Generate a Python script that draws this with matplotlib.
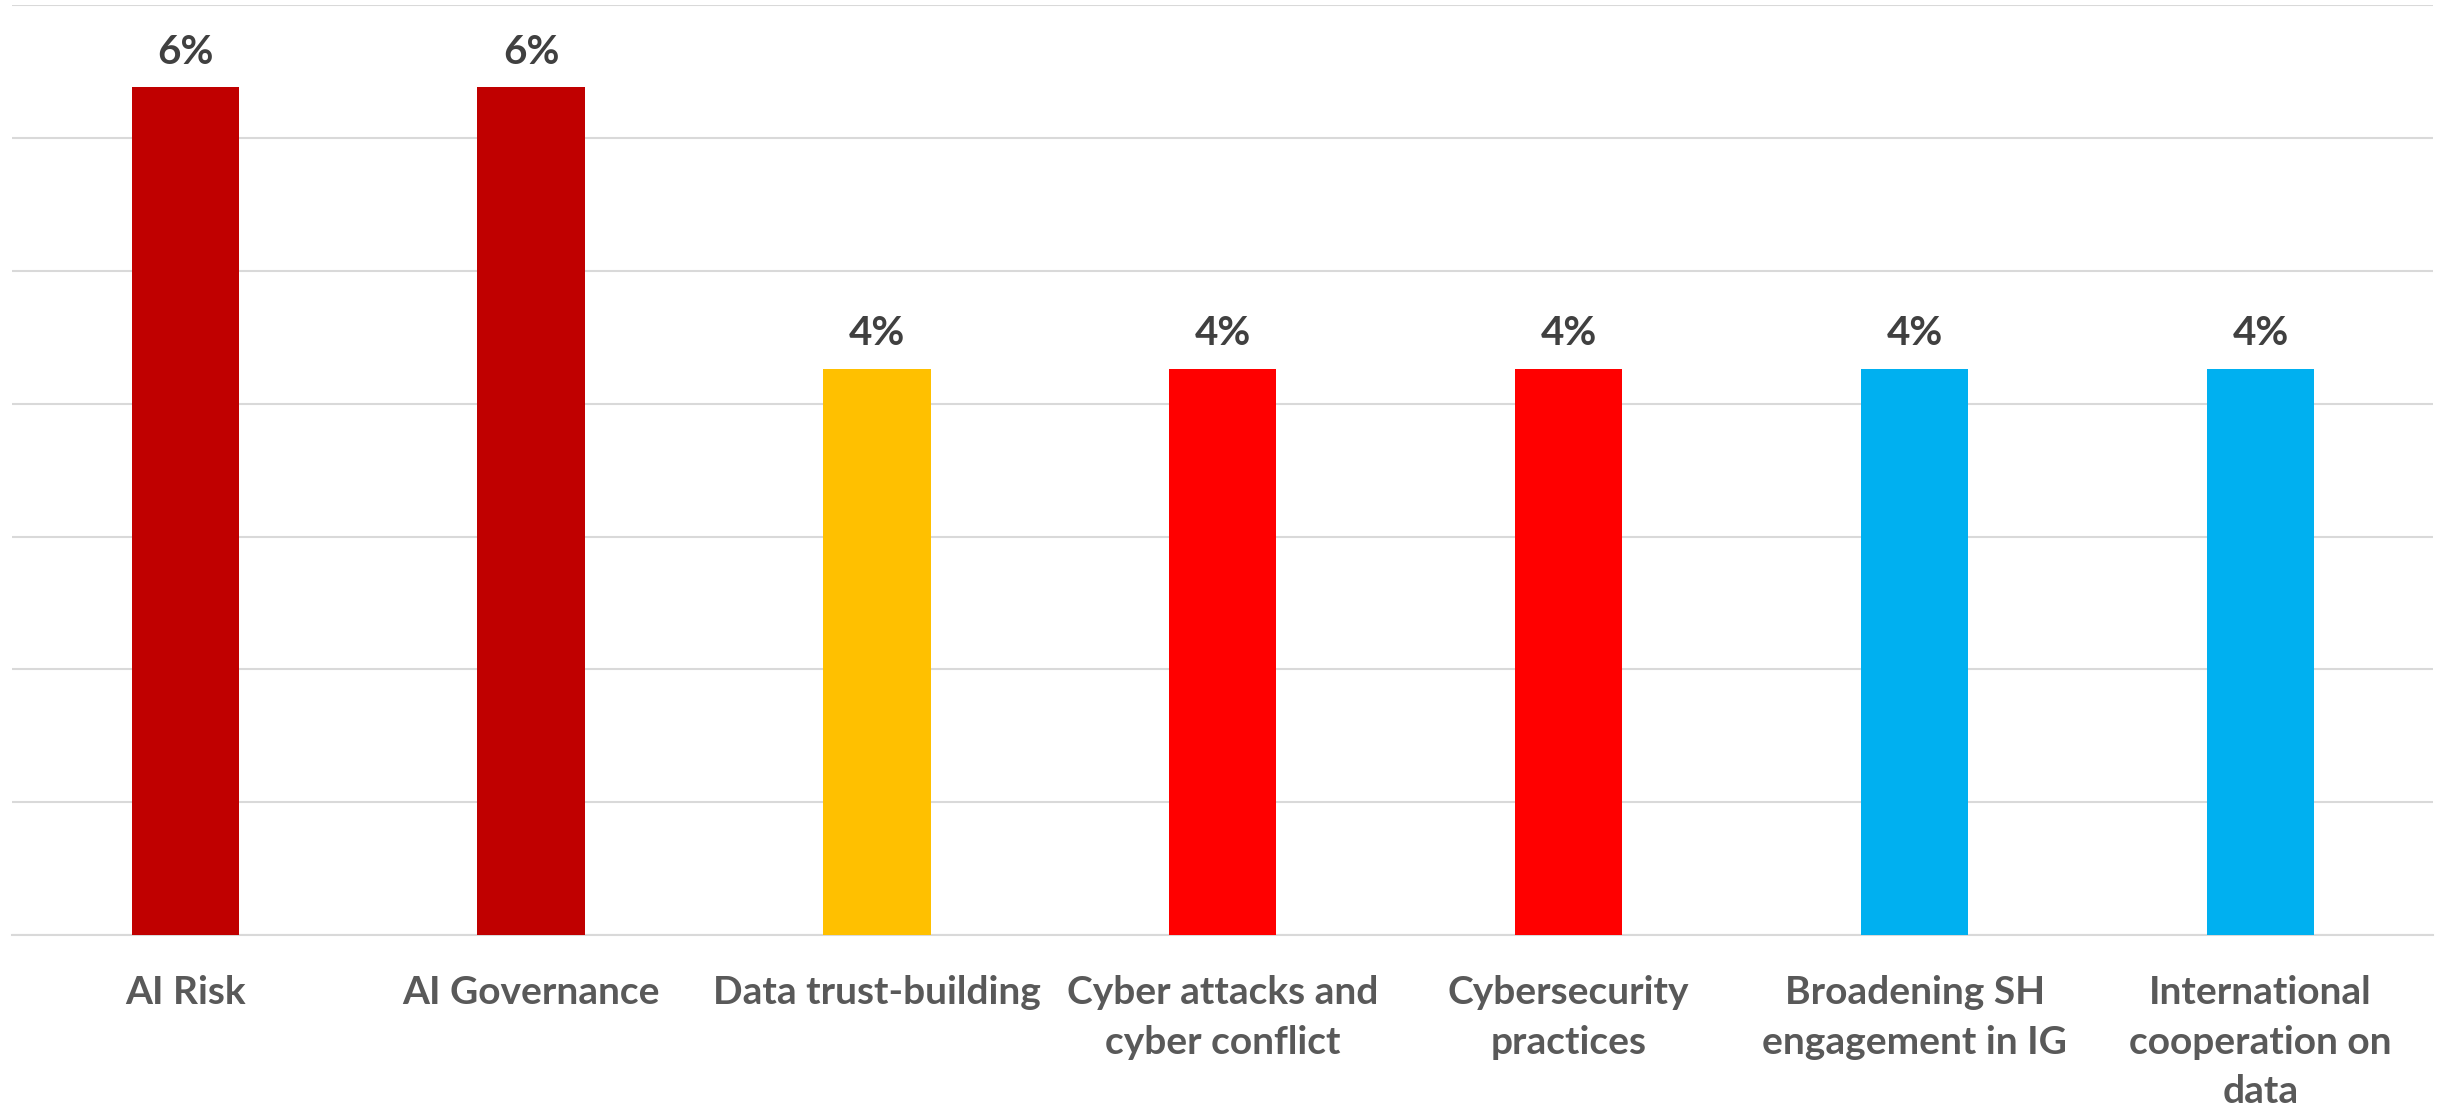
import matplotlib.pyplot as plt
from matplotlib.ticker import MultipleLocator

# share of mentions per topic (3/47 and 2/47)
topics = ['AI Risk', 'AI Governance', 'Data trust-building',
          'Cyber attacks and\ncyber conflict', 'Cybersecurity\npractices',
          'Broadening SH\nengagement in IG', 'International\ncooperation on\ndata']
shares = [0.0638, 0.0638, 0.0426, 0.0426, 0.0426, 0.0426, 0.0426]
value_labels = ['6%', '6%', '4%', '4%', '4%', '4%', '4%']
colors = ['#C00000', '#C00000', '#FFC000', '#FF0000', '#FF0000', '#00B0F0', '#00B0F0']

plt.rcParams['font.family'] = ['Lato', 'DejaVu Sans']

fig = plt.figure(figsize=(24.53, 11.12), dpi=100)
ax = fig.add_axes([0.005, 0.159, 0.987, 0.8365])

x = range(len(topics))
ax.bar(x, shares, width=0.31, color=colors, zorder=3)

for i in x:
    ax.annotate(value_labels[i], (i, shares[i]), xytext=(0, 12), textcoords='offset points',
                ha='center', va='bottom', fontsize=29, fontweight='bold', color='#404040')

ax.set_xlim(-0.5, len(topics) - 0.5)
ax.set_ylim(0, 0.07)
ax.yaxis.set_major_locator(MultipleLocator(0.01))
ax.grid(axis='y', color='#D9D9D9', linewidth=1.5, zorder=0)
ax.set_yticklabels([])
ax.tick_params(axis='y', length=0)
ax.tick_params(axis='x', length=0, pad=29)
ax.set_xticks(list(x))
ax.set_xticklabels(topics, fontsize=28, fontweight='bold', color='#595959', linespacing=1.5)
for s in ['top', 'right', 'left']:
    ax.spines[s].set_visible(False)
ax.spines['bottom'].set_color('#D9D9D9')
ax.spines['bottom'].set_linewidth(1.5)

fig.savefig('out.png', dpi=100)
